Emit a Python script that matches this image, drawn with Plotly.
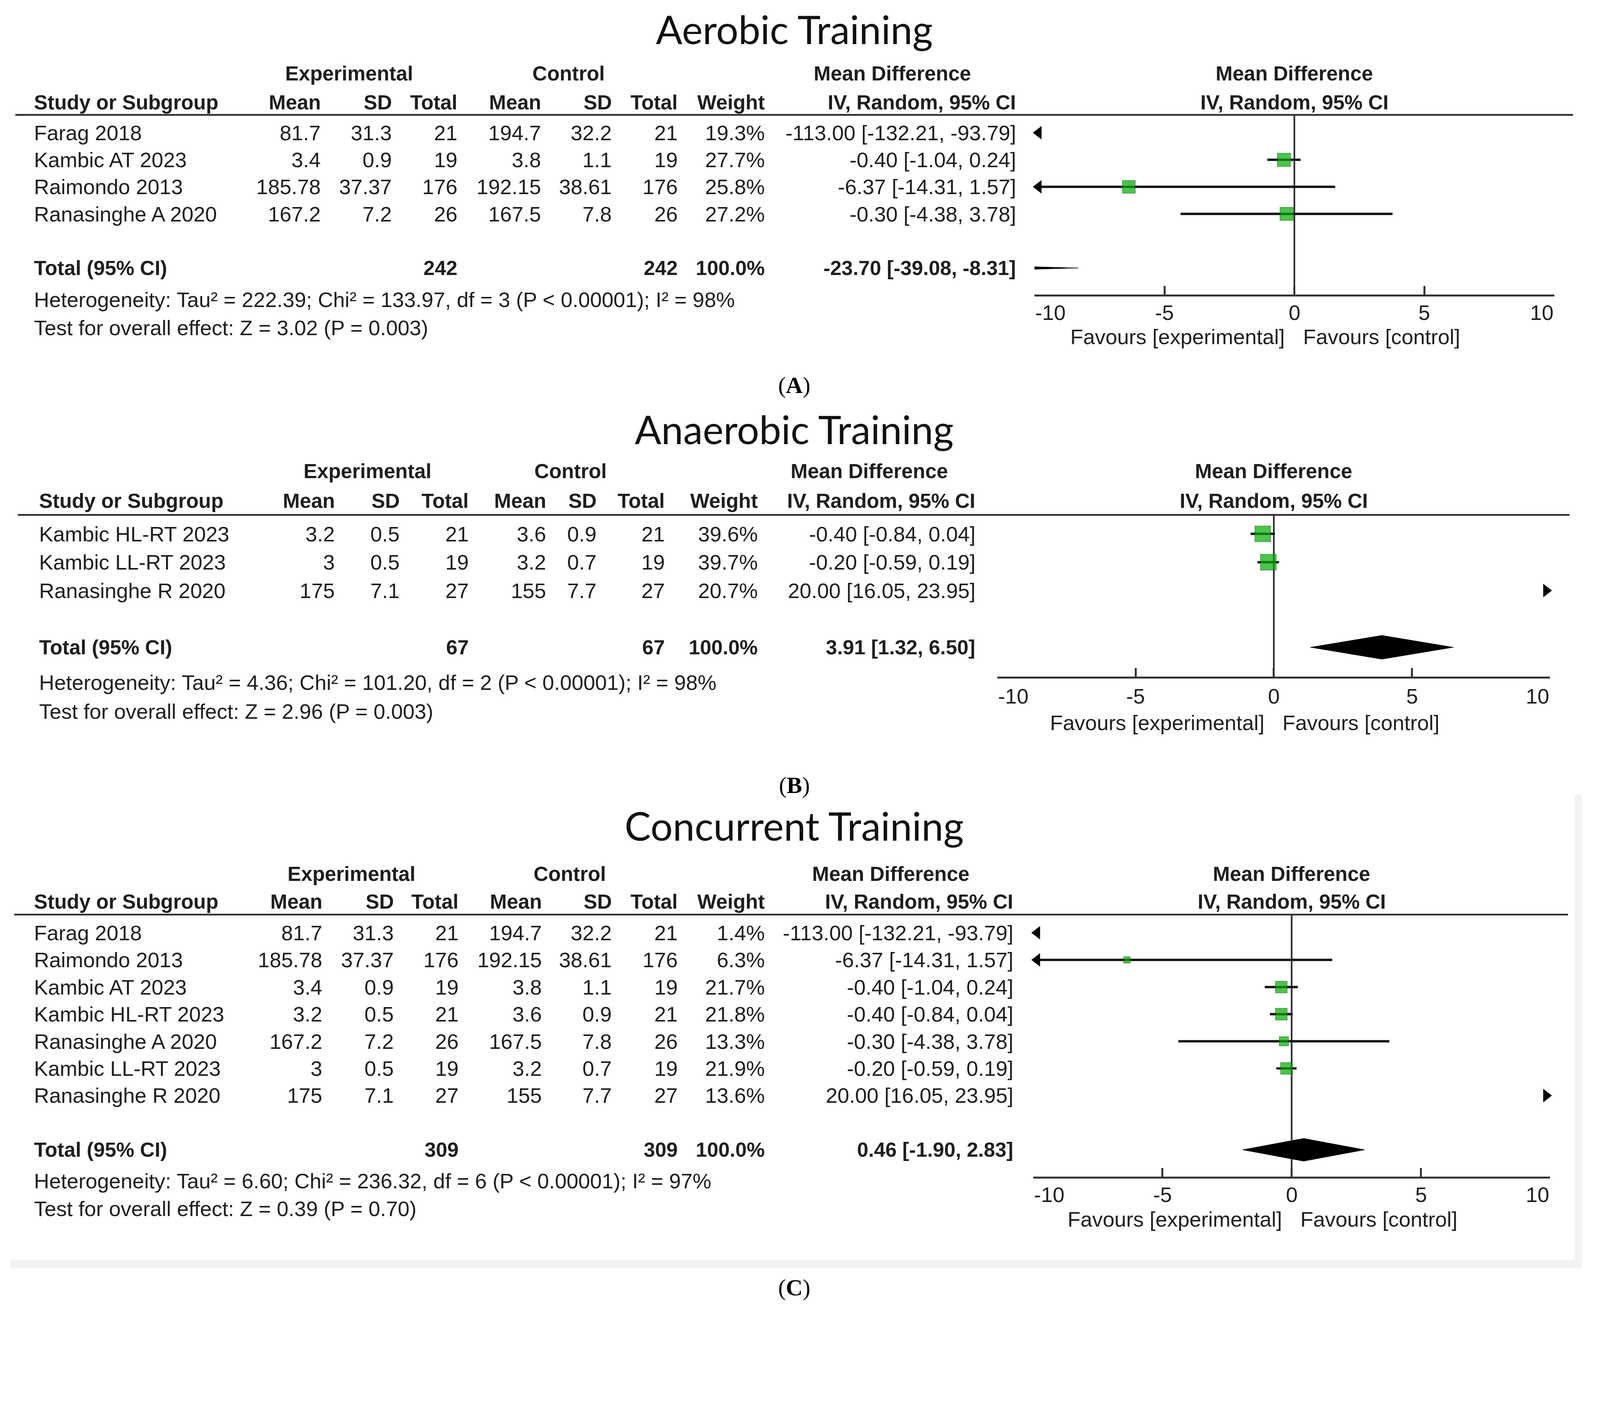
import numpy as np
from plotly import graph_objects as go

# target picture is 4400x3612 device px; the page is laid out in css px (4096 wide viewport)
W, H = 4400, 3612
DPR = 4400 / 4096
FW, FH = 4078, 3344          # figure size in css px
BODY_MARGIN = 8

FONT = "Liberation Sans, Arial, sans-serif"
TITLE_FONT = "Lato, Noto Sans, sans-serif"
SERIF = "Liberation Serif, Times New Roman, serif"
INK = "#1e1e1e"
GREEN = "#00ac00"
GREEN_EDGE = "#007a00"

# ---- data: aerobic training ----
aer_study = ["Farag 2018", "Kambic AT 2023", "Raimondo 2013", "Ranasinghe A 2020"]
aer_exp_mean = [81.7, 3.4, 185.78, 167.2]
aer_exp_sd = [31.3, 0.9, 37.37, 7.2]
aer_exp_n = [21, 19, 176, 26]
aer_ctl_mean = [194.7, 3.8, 192.15, 167.5]
aer_ctl_sd = [32.2, 1.1, 38.61, 7.8]
aer_ctl_n = [21, 19, 176, 26]
aer_weight = [19.3, 27.7, 25.8, 27.2]
aer_md = [-113.00, -0.40, -6.37, -0.30]
aer_lo = [-132.21, -1.04, -14.31, -4.38]
aer_hi = [-93.79, 0.24, 1.57, 3.78]
aer_pooled = [-23.70, -39.08, -8.31]
aer_het = ["222.39", "133.97", 3, 98]
aer_z = ["3.02", "0.003"]

# ---- data: anaerobic training ----
ana_study = ["Kambic HL-RT 2023", "Kambic LL-RT 2023", "Ranasinghe R 2020"]
ana_exp_mean = [3.2, 3, 175]
ana_exp_sd = [0.5, 0.5, 7.1]
ana_exp_n = [21, 19, 27]
ana_ctl_mean = [3.6, 3.2, 155]
ana_ctl_sd = [0.9, 0.7, 7.7]
ana_ctl_n = [21, 19, 27]
ana_weight = [39.6, 39.7, 20.7]
ana_md = [-0.40, -0.20, 20.00]
ana_lo = [-0.84, -0.59, 16.05]
ana_hi = [0.04, 0.19, 23.95]
ana_pooled = [3.91, 1.32, 6.50]
ana_het = ["4.36", "101.20", 2, 98]
ana_z = ["2.96", "0.003"]

# ---- data: concurrent training ----
con_study = ["Farag 2018", "Raimondo 2013", "Kambic AT 2023", "Kambic HL-RT 2023",
             "Ranasinghe A 2020", "Kambic LL-RT 2023", "Ranasinghe R 2020"]
con_exp_mean = [81.7, 185.78, 3.4, 3.2, 167.2, 3, 175]
con_exp_sd = [31.3, 37.37, 0.9, 0.5, 7.2, 0.5, 7.1]
con_exp_n = [21, 176, 19, 21, 26, 19, 27]
con_ctl_mean = [194.7, 192.15, 3.8, 3.6, 167.5, 3.2, 155]
con_ctl_sd = [32.2, 38.61, 1.1, 0.9, 7.8, 0.7, 7.7]
con_ctl_n = [21, 176, 19, 21, 26, 19, 27]
con_weight = [1.4, 6.3, 21.7, 21.8, 13.3, 21.9, 13.6]
con_md = [-113.00, -6.37, -0.40, -0.40, -0.30, -0.20, 20.00]
con_lo = [-132.21, -14.31, -1.04, -0.84, -4.38, -0.59, 16.05]
con_hi = [-93.79, 1.57, 0.24, 0.04, 3.78, 0.19, 23.95]
con_pooled = [0.46, -1.90, 2.83]
con_het = ["6.60", "236.32", 6, 97]
con_z = ["0.39", "0.70"]

tick_vals = [-10, -5, 0, 5, 10]
tick_text = ["-10", "-5", "0", "5", "10"]
x_lim = (-10, 10)

# geometry below is measured in picture pixels of the 4400x3612 reference
panels = [
    dict(title="Aerobic Training", tag="A",
         study=aer_study, cols=[aer_exp_mean, aer_exp_sd, aer_exp_n, aer_ctl_mean, aer_ctl_sd, aer_ctl_n],
         weight=aer_weight, md=aer_md, lo=aer_lo, hi=aer_hi, pooled=aer_pooled, het=aer_het, z=aer_z,
         g=dict(title_y=80, hdr1=202, hdr2=281, line=316, line_x=(42, 4326), y0=365, pitch=74.4,
                axis=810, tick_y=859, fav_y=926, het_y=824, test_y=901, tag_y=1059, name_x=91,
                col_x=[884, 1080, 1260, 1490, 1684, 1866, 2105], ci_x=2796, exp_c=960, ctl_c=1564,
                md_c=2454, fx=(2845, 4274))),
    dict(title="Anaerobic Training", tag="B",
         study=ana_study, cols=[ana_exp_mean, ana_exp_sd, ana_exp_n, ana_ctl_mean, ana_ctl_sd, ana_ctl_n],
         weight=ana_weight, md=ana_md, lo=ana_lo, hi=ana_hi, pooled=ana_pooled, het=ana_het, z=ana_z,
         g=dict(title_y=1180, hdr1=1296, hdr2=1377, line=1416, line_x=(49, 4316), y0=1468, pitch=78,
                axis=1861, tick_y=1914, fav_y=1987, het_y=1877, test_y=1956, tag_y=2159, name_x=105,
                col_x=[923, 1101, 1291, 1504, 1642, 1831, 2086], ci_x=2684, exp_c=1010, ctl_c=1569,
                md_c=2391, fx=(2743, 4263))),
    dict(title="Concurrent Training", tag="C",
         study=con_study, cols=[con_exp_mean, con_exp_sd, con_exp_n, con_ctl_mean, con_ctl_sd, con_ctl_n],
         weight=con_weight, md=con_md, lo=con_lo, hi=con_hi, pooled=con_pooled, het=con_het, z=con_z,
         g=dict(title_y=2270, hdr1=2403, hdr2=2479, line=2515, line_x=(39, 4312), y0=2565, pitch=74.6,
                axis=3236, tick_y=3285, fav_y=3353, het_y=3247, test_y=3324, tag_y=3541, name_x=91,
                col_x=[888, 1085, 1263, 1492, 1684, 1866, 2105], ci_x=2789, exp_c=966, ctl_c=1567,
                md_c=2450, fx=(2841, 4263))),
]


def sz(v):
    # picture px -> css px
    return v / DPR


def px(x):
    return (x / DPR - BODY_MARGIN) / FW


def py(y):
    return 1 - (y / DPR - BODY_MARGIN) / FH


BODY = sz(58)
BOLD = sz(56)
annotations = []
shapes = []


def text(x, y, s, anchor="left", size=None, bold=False, xref="paper", yref="paper",
         family=FONT, color=INK, xshift=0):
    if size is None:
        size = BOLD if bold else BODY
    annotations.append(dict(
        x=x, y=y, xref=xref, yref=yref, text=f"<b>{s}</b>" if bold else s,
        showarrow=False, xanchor=anchor, yanchor="middle", xshift=xshift,
        font=dict(family=family, size=size, color=color)))


def ci_str(m, l, h):
    return f"{m:.2f} [{l:.2f}, {h:.2f}]"


fig = go.Figure()

for k, p in enumerate(panels, start=1):
    g = p["g"]
    xa = "x" if k == 1 else f"x{k}"
    ya = "y" if k == 1 else f"y{k}"
    sfx = "" if k == 1 else str(k)
    n = len(p["study"])
    rows = np.arange(n)
    total_row = n + 1
    unit_px = sz(g["fx"][1] - g["fx"][0]) / (x_lim[1] - x_lim[0])

    # axes: y in row units, so table rows and forest marks share positions
    r_top = (g["line"] - g["y0"]) / g["pitch"]
    r_bot = (g["axis"] - g["y0"]) / g["pitch"]
    fig.layout[f"xaxis{sfx}"] = dict(
        domain=[px(g["fx"][0]), px(g["fx"][1])], range=list(x_lim), anchor=ya,
        showgrid=False, zeroline=False, showline=True, linecolor="#333333", linewidth=sz(5),
        ticks="inside", ticklen=sz(24), tickwidth=sz(5), tickcolor="#333333",
        tickvals=tick_vals, showticklabels=False, fixedrange=True)
    fig.layout[f"yaxis{sfx}"] = dict(
        domain=[py(g["axis"]), py(g["line"])], range=[r_bot, r_top], anchor=xa,
        visible=False, fixedrange=True)

    # confidence interval lines
    lx, ly = [], []
    for r, l, h in zip(rows, p["lo"], p["hi"]):
        lx += [l, h, None]
        ly += [r, r, None]
    fig.add_trace(go.Scatter(x=lx, y=ly, xaxis=xa, yaxis=ya, mode="lines",
                             line=dict(color="#111111", width=sz(6.5)), hoverinfo="skip", showlegend=False))

    # study squares, area follows weight
    fig.add_trace(go.Scatter(
        x=p["md"], y=rows, xaxis=xa, yaxis=ya, mode="markers",
        marker=dict(symbol="square", size=[sz(6.8 * np.sqrt(w)) for w in p["weight"]],
                    color=GREEN, line=dict(color=GREEN_EDGE, width=2)),
        showlegend=False, hoverinfo="skip"))

    # arrows where the interval leaves the axis range
    arrow_size = sz(32)
    off = arrow_size / 2 / unit_px
    ax_x, ax_y, ax_sym = [], [], []
    for r, l, h in zip(rows, p["lo"], p["hi"]):
        if l < x_lim[0]:
            ax_x.append(x_lim[0] + off * 0.7); ax_y.append(r); ax_sym.append("triangle-left")
        if h > x_lim[1]:
            ax_x.append(x_lim[1] - off * 0.7); ax_y.append(r); ax_sym.append("triangle-right")
    fig.add_trace(go.Scatter(
        x=ax_x, y=ax_y, xaxis=xa, yaxis=ya, mode="markers", cliponaxis=False,
        marker=dict(symbol=ax_sym, size=arrow_size, color="#000000"),
        showlegend=False, hoverinfo="skip"))

    # pooled diamond
    m, l, h = p["pooled"]
    hh = 0.42
    fig.add_trace(go.Scatter(
        x=[l, m, h, m, l], y=[total_row, total_row - hh, total_row, total_row + hh, total_row],
        xaxis=xa, yaxis=ya, mode="lines", fill="toself", fillcolor="#000000",
        line=dict(color="#000000", width=1), showlegend=False, hoverinfo="skip"))

    # zero line and header rule
    shapes.append(dict(type="line", xref=xa, yref=f"{ya} domain", x0=0, x1=0, y0=0, y1=1,
                       line=dict(color="#2a2a2a", width=sz(4.5)), layer="below"))
    shapes.append(dict(type="line", xref="paper", yref="paper",
                       x0=px(g["line_x"][0]), x1=px(g["line_x"][1]), y0=py(g["line"]), y1=py(g["line"]),
                       line=dict(color="#333333", width=sz(5))))

    # title and panel tag
    text(px(2184), py(g["title_y"]), p["title"], anchor="center", size=sz(108), family=TITLE_FONT,
         color="#111111")
    text(px(2184), py(g["tag_y"]), f"(<b>{p['tag']}</b>)", anchor="center", size=sz(64), family=SERIF,
         color="#000000")

    # header rows
    text(px(g["exp_c"]), py(g["hdr1"]), "Experimental", "center", bold=True)
    text(px(g["ctl_c"]), py(g["hdr1"]), "Control", "center", bold=True)
    text(px(g["md_c"]), py(g["hdr1"]), "Mean Difference", "center", bold=True)
    text(0, py(g["hdr1"]), "Mean Difference", "center", bold=True, xref=xa)
    text(px(g["name_x"]), py(g["hdr2"]), "Study or Subgroup", bold=True)
    for label, cx in zip(["Mean", "SD", "Total", "Mean", "SD", "Total", "Weight"], g["col_x"]):
        text(px(cx), py(g["hdr2"]), label, "right", bold=True)
    text(px(g["ci_x"]), py(g["hdr2"]), "IV, Random, 95% CI", "right", bold=True)
    text(0, py(g["hdr2"]), "IV, Random, 95% CI", "center", bold=True, xref=xa)

    # study rows
    for i in range(n):
        text(px(g["name_x"]), i, p["study"][i], yref=ya)
        for col, cx in zip(p["cols"], g["col_x"][:6]):
            text(px(cx), i, f"{col[i]:g}", "right", yref=ya)
        text(px(g["col_x"][6]), i, f"{p['weight'][i]:.1f}%", "right", yref=ya)
        text(px(g["ci_x"]), i, ci_str(p["md"][i], p["lo"][i], p["hi"][i]), "right", yref=ya)

    # total row
    text(px(g["name_x"]), total_row, "Total (95% CI)", bold=True, yref=ya)
    text(px(g["col_x"][2]), total_row, str(sum(p["cols"][2])), "right", bold=True, yref=ya)
    text(px(g["col_x"][5]), total_row, str(sum(p["cols"][5])), "right", bold=True, yref=ya)
    text(px(g["col_x"][6]), total_row, f"{sum(p['weight']):.1f}%", "right", bold=True, yref=ya)
    text(px(g["ci_x"]), total_row, ci_str(m, l, h), "right", bold=True, yref=ya)

    tau, chi, df, i2 = p["het"]
    text(px(g["name_x"]), py(g["het_y"]),
         f"Heterogeneity: Tau² = {tau}; Chi² = {chi}, df = {df} (P &lt; 0.00001); I² = {i2}%")
    text(px(g["name_x"]), py(g["test_y"]),
         f"Test for overall effect: Z = {p['z'][0]} (P = {p['z'][1]})")

    # forest axis labels
    for tv, tt in zip(tick_vals, tick_text):
        anc = "left" if tv == x_lim[0] else ("right" if tv == x_lim[1] else "center")
        text(tv, py(g["tick_y"]), tt, anc, xref=xa)
    text(0, py(g["fav_y"]), "Favours [experimental]", "right", xref=xa, xshift=-sz(24))
    text(0, py(g["fav_y"]), "Favours [control]", "left", xref=xa, xshift=sz(22))

# faint frame left around the lower panel in the source image
shapes.append(dict(type="rect", xref="paper", yref="paper", x0=px(4330), x1=px(4350),
                   y0=py(3487), y1=py(2185), fillcolor="#f2f2f2", line=dict(width=0), layer="below"))
shapes.append(dict(type="rect", xref="paper", yref="paper", x0=px(28), x1=px(4350),
                   y0=py(3487), y1=py(3465), fillcolor="#f2f2f2", line=dict(width=0), layer="below"))

fig.update_layout(
    width=FW, height=FH, margin=dict(l=0, r=0, t=0, b=0),
    paper_bgcolor="white", plot_bgcolor="rgba(0,0,0,0)",
    annotations=annotations, shapes=shapes, showlegend=False,
)

fig.write_html("out.html")
